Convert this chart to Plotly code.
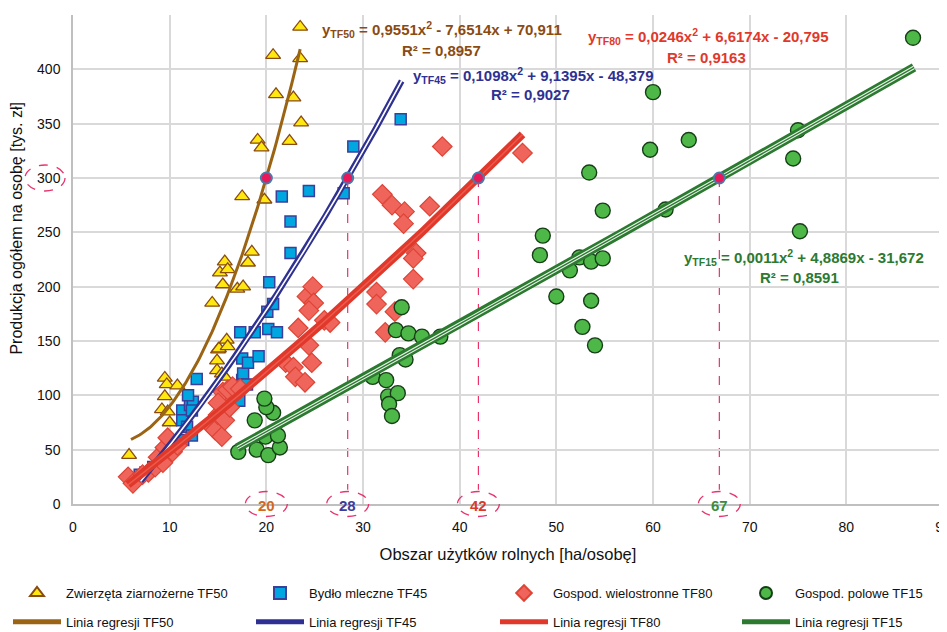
import numpy as np
import plotly.graph_objects as go

FONT = "Liberation Sans, Arial, sans-serif"

# ---------------- data ----------------
tf50_x = [5.8, 9.2, 9.5, 9.5, 9.7, 9.8, 10.0, 10.8, 14.4, 14.9, 14.9, 15.0, 15.1, 15.4, 15.7,
          15.9, 16.0, 15.2, 15.5, 15.7, 16.0, 17.0, 17.6, 17.5, 18.1, 18.5, 19.8, 19.1, 19.5,
          20.7, 21.0, 22.4, 22.8, 23.5, 23.6, 23.5]
tf50_y = [45, 87, 116, 99, 110, 85, 75, 109, 185, 132, 123, 142, 143, 120, 117,
          151, 145, 213, 202, 223, 216, 198, 200, 283, 222, 232, 280, 335, 328,
          413, 377, 334, 374, 439, 351, 410]

tf45_x = [6.9, 7.5, 8.3, 11.3, 11.4, 11.3, 11.8, 12.3, 12.1, 12.4, 11.9, 12.3, 12.8, 17.2,
          17.5, 17.6, 18.0, 17.5, 18.1, 19.2, 17.3, 18.8, 20.2, 21.1, 20.1, 20.7, 20.3, 22.5,
          22.5, 21.6, 24.4, 28.0, 29.0, 33.9]
tf45_y = [27, 29, 34, 86, 59, 77, 71, 63, 91, 94, 100, 86, 115, 95,
          114, 120, 110, 134, 130, 136, 158, 158, 161, 158, 177, 184, 204, 231,
          260, 283, 288, 286, 329, 354]

tf80_x = [5.7, 6.2, 7.2, 7.8, 8.5, 8.8, 9.3, 9.5, 9.8, 10.3, 10.8, 14.5, 14.7, 15.0, 15.4,
          15.4, 15.7, 15.5, 16.0, 16.2, 16.5, 17.3, 15.0, 22.0, 22.8, 23.0, 24.0, 24.7, 24.4,
          23.3, 26.0, 26.6, 24.2, 24.8, 24.9, 24.4, 31.4, 31.4, 32.3, 33.3, 32.0, 33.0, 34.3,
          34.2, 36.9, 35.5, 35.2, 35.2, 38.2, 46.5]
tf80_y = [25, 19, 27, 29, 34, 43, 38, 52, 61, 48, 54, 70, 68, 82, 62,
          96, 77, 103, 105, 89, 108, 106, 93, 130, 126, 117, 112, 130, 146,
          162, 169, 167, 191, 200, 185, 178, 195, 184, 158, 177, 285, 275, 269,
          258, 274, 231, 226, 207, 329, 323]

tf15_x = [17.1, 19.0, 20.2, 21.4, 19.9, 21.2, 18.8, 20.7, 20.0, 19.8, 31.0, 32.4, 32.6, 33.6,
          32.7, 33.0, 33.8, 34.4, 33.4, 34.7, 36.1, 38.0, 34.0, 48.3, 48.6, 50.0, 51.4, 52.4,
          53.6, 54.8, 52.7, 54.0, 53.6, 53.4, 54.8, 59.7, 60.0, 61.3, 63.7, 74.5, 75.0, 75.2, 86.9]
tf15_y = [48, 50, 45, 52, 62, 63, 77, 84, 89, 97, 117, 114, 99, 102,
          92, 81, 137, 133, 160, 157, 154, 154, 181, 229, 247, 191, 215, 227,
          223, 226, 163, 146, 187, 305, 270, 326, 379, 271, 335, 318, 344, 251, 429]

# regression coefficients (a, b, c) and x-ranges of the trendlines
coef_tf50 = [0.9551, -7.6514, 70.911]
coef_tf45 = [0.1098, 9.1395, -48.379]
coef_tf80 = [0.0246, 6.6174, -20.795]
coef_tf15 = [0.0011, 4.8869, -31.672]
span_tf50 = [6.0, 23.5]
span_tf45 = [7.0, 34.0]
span_tf80 = [5.7, 46.5]
span_tf15 = [17.0, 87.0]
r2_values = ["0,8957", "0,9027", "0,9163", "0,8591"]
level = 300
level_labels = ["20", "28", "42", "67"]

names_pts = ["Zwierzęta ziarnożerne TF50", "Bydło mleczne TF45",
             "Gospod. wielostronne TF80", "Gospod. polowe TF15"]
names_lin = ["Linia regresji TF50", "Linia regresji TF45",
             "Linia regresji TF80", "Linia regresji TF15"]

x_ticks = [0, 10, 20, 30, 40, 50, 60, 70, 80, 90]
y_ticks = [0, 50, 100, 150, 200, 250, 300, 350, 400, 450]
x_title = "Obszar użytków rolnych [ha/osobę]"
y_title = "Produkcja ogółem na osobę [tys. zł]"

# ---------------- styling ----------------
PINK = "#E8336B"
C50_LINE, C50_TXT = "#9B6414", "#8A4B12"
C45 = "#2E3192"
C80 = "#E0392B"
C15 = "#2C7A30"

# the page body has an 8px margin, so the figure is drawn 8px smaller
W, H = 939, 624


def curve(coef, span, n=120):
    xs = np.linspace(span[0], span[1], n)
    return xs, np.polyval(coef, xs)


def cross(coef, yv):
    a, b, c = coef
    r = np.roots([a, b, c - yv])
    r = [v.real for v in r if abs(v.imag) < 1e-9 and v.real > 0]
    return min(r)


fig = go.Figure()

# scatter series
pts = [
    (tf50_x, tf50_y, "triangle-up", "#FFE812", "#8A4B12", 13, 1.3, "legend"),
    (tf45_x, tf45_y, "square", "#00A6E0", "#3B3F99", 11, 1.5, "legend2"),
    (tf80_x, tf80_y, "diamond", "#F0655B", "#DD4436", 15, 1.2, "legend3"),
    (tf15_x, tf15_y, "circle", "#4DB848", "#173F17", 15, 1.4, "legend4"),
]
for i, (xs, ys, sym, fc, lc, sz, lw, lg) in enumerate(pts):
    fig.add_trace(go.Scatter(
        x=xs, y=ys, mode="markers", name=names_pts[i], legend=lg,
        legendgroup="p%d" % i, legendrank=1,
        marker=dict(symbol=sym, color=fc, size=sz, line=dict(color=lc, width=lw)),
    ))

# regression lines
xs, ys = curve(coef_tf50, span_tf50)
fig.add_trace(go.Scatter(x=xs, y=ys, mode="lines", name=names_lin[0], legend="legend",
                         legendgroup="l0", legendrank=2,
                         line=dict(color=C50_LINE, width=3)))

xs, ys = curve(coef_tf45, span_tf45)
fig.add_trace(go.Scatter(x=xs, y=ys, mode="lines", name=names_lin[1], legend="legend2",
                         legendgroup="l1", legendrank=2,
                         line=dict(color=C45, width=6)))
fig.add_trace(go.Scatter(x=xs, y=ys, mode="lines", showlegend=False, hoverinfo="skip",
                         line=dict(color="white", width=1.6)))

xs, ys = curve(coef_tf80, span_tf80)
fig.add_trace(go.Scatter(x=xs, y=ys, mode="lines", name=names_lin[2], legend="legend3",
                         legendgroup="l2", legendrank=2,
                         line=dict(color=C80, width=8)))
fig.add_trace(go.Scatter(x=xs, y=ys, mode="lines", showlegend=False, hoverinfo="skip",
                         line=dict(color="#EC5A4C", width=1.5)))

xs, ys = curve(coef_tf15, span_tf15)
fig.add_trace(go.Scatter(x=xs, y=ys, mode="lines", name=names_lin[3], legend="legend4",
                         legendgroup="l3", legendrank=2,
                         line=dict(color=C15, width=9)))
fig.add_trace(go.Scatter(x=xs, y=ys, mode="lines", showlegend=False, hoverinfo="skip",
                         line=dict(color="#E8F2E8", width=3.6)))
fig.add_trace(go.Scatter(x=xs, y=ys, mode="lines", showlegend=False, hoverinfo="skip",
                         line=dict(color=C15, width=1.4)))

# intersections with the 300 level
coefs = [coef_tf50, coef_tf45, coef_tf80, coef_tf15]
xcross = [cross(c, level) for c in coefs]
label_cols = ["#D2691E", "#3C3C9C", "#D93A2B", "#3A8E3A"]

shapes = []
shapes.append(dict(type="line", xref="x", yref="y", x0=0, x1=81.4, y0=level, y1=level,
                   line=dict(color=PINK, width=1.2, dash="dash"), layer="below"))
for xc in xcross:
    shapes.append(dict(type="line", xref="x", yref="y", x0=xc, x1=xc, y0=level, y1=13,
                       line=dict(color=PINK, width=1.2, dash="dash"), layer="below"))
    shapes.append(dict(type="circle", xref="x", yref="paper", xsizemode="pixel",
                       ysizemode="pixel", xanchor=xc, yanchor=0,
                       x0=-21, x1=21, y0=-12.5, y1=12.5,
                       line=dict(color=PINK, width=1.3, dash="dash")))
shapes.append(dict(type="circle", xref="paper", yref="y", xsizemode="pixel", ysizemode="pixel",
                   xanchor=0, yanchor=level, x0=-48, x1=-8, y0=-13, y1=13,
                   line=dict(color=PINK, width=1.3, dash="dash")))

fig.add_trace(go.Scatter(x=xcross, y=[level] * 4, mode="markers", showlegend=False,
                         hoverinfo="skip",
                         marker=dict(symbol="circle", size=11, color="#E8185A",
                                     line=dict(color="#4A7AA8", width=2))))

annotations = []
for xc, lab, col in zip(xcross, level_labels, label_cols):
    annotations.append(dict(x=xc, y=0, xref="x", yref="y", text="<b>%s</b>" % lab,
                            showarrow=False, yshift=-1,
                            font=dict(family=FONT, size=15, color=col)))

eqs = [
    ("TF50", "= 0,9551x<sup>2</sup> - 7,6514x + 70,911", C50_TXT, 25.6, 437, 38.1, 417),
    ("TF45", "= 0,1098x<sup>2</sup> + 9,1395x - 48,379", C45, 34.95, 394, 47.3, 376.5),
    ("TF80", "= 0,0246x<sup>2</sup> + 6,6174x - 20,795", C80, 53.05, 430, 65.5, 411),
    ("TF15", "= 0,0011x<sup>2</sup> + 4,8869x - 31,672", C15, 63.0, 226.5, 75.2, 208),
]
for (sub, body, col, x1, y1, x2, y2), r2 in zip(eqs, r2_values):
    annotations.append(dict(x=x1, y=y1, xref="x", yref="y", xanchor="left",
                            text="<b>y<sub>%s</sub> %s</b>" % (sub, body), showarrow=False,
                            font=dict(family=FONT, size=15, color=col)))
    annotations.append(dict(x=x2, y=y2, xref="x", yref="y", xanchor="center",
                            text="<b>R² = %s</b>" % r2, showarrow=False,
                            font=dict(family=FONT, size=15, color=col)))

# y-axis title (placed as rotated text left of the tick labels)
annotations.append(dict(x=-0.0645, y=0.565, xref="paper", yref="paper", text=y_title,
                        textangle=-90, showarrow=False, xanchor="center", yanchor="middle",
                        font=dict(family=FONT, size=16, color="#111")))

legend_common = dict(orientation="v", xref="container", yref="container",
                     xanchor="left", yanchor="top", traceorder="grouped",
                     tracegroupgap=9, itemsizing="constant", itemwidth=48,
                     bgcolor="rgba(0,0,0,0)",
                     font=dict(family=FONT, size=13, color="#111"))
leg_x_px = [0, 243, 487, 729]
leg_top_px = 570

layout_legends = {}
for i, key in enumerate(["legend", "legend2", "legend3", "legend4"]):
    d = dict(legend_common)
    d.update(x=leg_x_px[i] / W, y=1 - leg_top_px / H)
    layout_legends[key] = d

fig.update_layout(
    width=W, height=H,
    margin=dict(l=65, r=4, t=7, b=128, autoexpand=False),
    paper_bgcolor="white", plot_bgcolor="white",
    font=dict(family=FONT, size=14, color="#111"),
    shapes=shapes, annotations=annotations,
    xaxis=dict(range=[0, 90], tickvals=x_ticks, showgrid=True, gridcolor="#D9D9D9",
               gridwidth=1.5, zeroline=False, showline=True, linecolor="#BFBFBF",
               linewidth=1.5, ticks="outside", ticklen=9, tickcolor="rgba(0,0,0,0)",
               automargin=False, ticklabeloverflow="allow",
               tickfont=dict(family=FONT, size=14, color="#111"),
               title=dict(text=x_title,
                          font=dict(family=FONT, size=16.5, color="#111"))),
    yaxis=dict(range=[0, 450], tickvals=y_ticks, showgrid=True, gridcolor="#D9D9D9",
               gridwidth=1.5, zeroline=False, showline=True, linecolor="#BFBFBF",
               linewidth=1.5, ticks="outside", ticklen=8, tickcolor="rgba(0,0,0,0)",
               automargin=False,
               tickfont=dict(family=FONT, size=14, color="#111")),
    **layout_legends,
)

fig.write_html("out.html")
